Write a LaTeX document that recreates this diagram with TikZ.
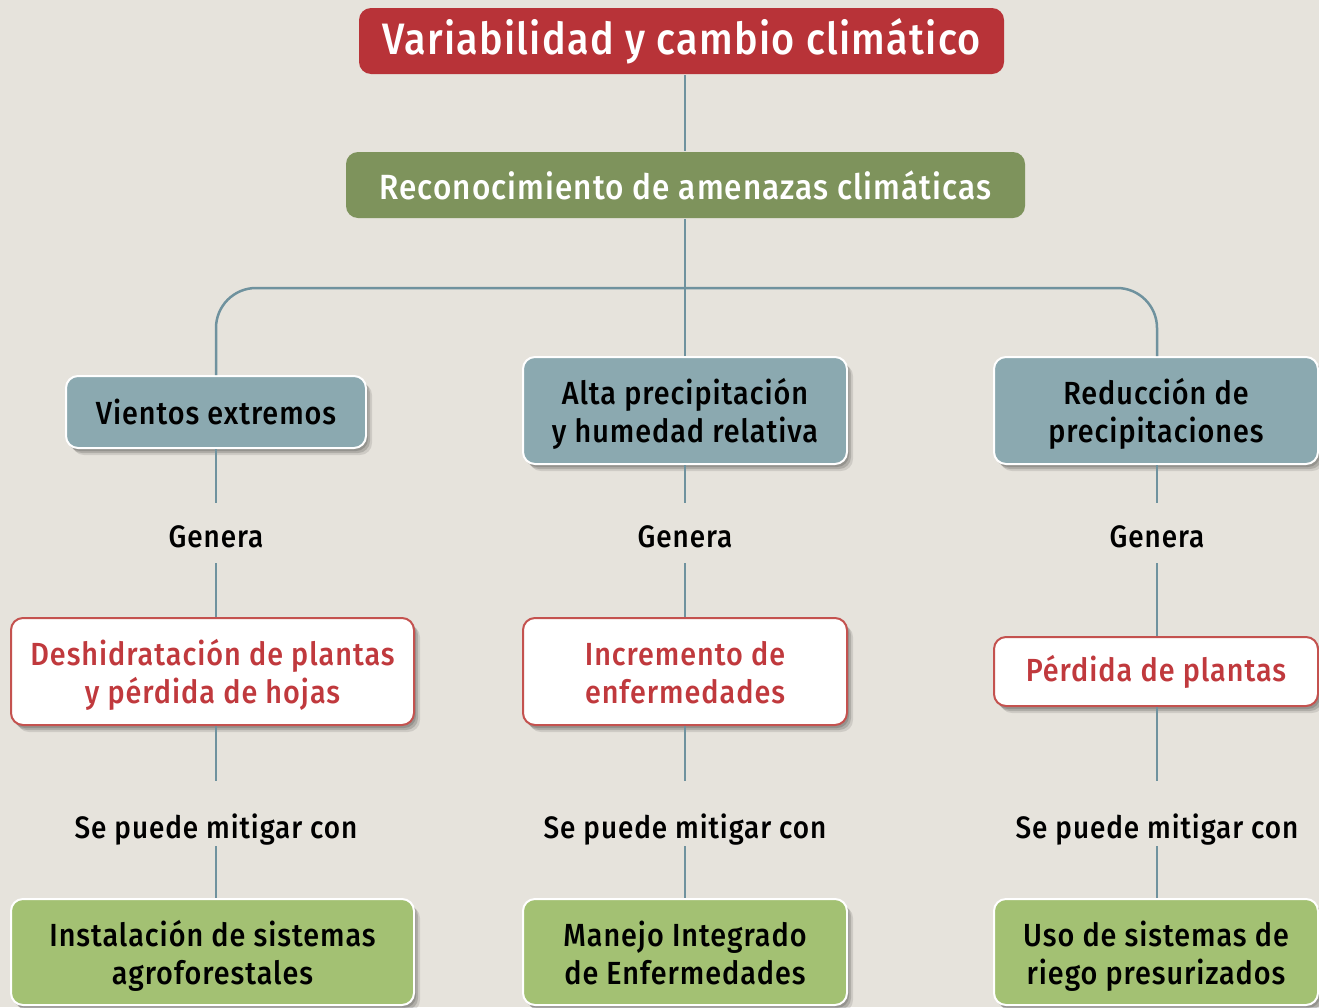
\documentclass[tikz,border=0pt]{standalone}
\usepackage{fontspec}
\setmainfont{Fira Sans}[UprightFont=* Medium, FakeStretch=0.9, LetterSpace=3]
\usetikzlibrary{shadows}
\definecolor{bgc}{HTML}{E6E3DC}
\definecolor{titred}{HTML}{B83338}
\definecolor{topgreen}{HTML}{7E935C}
\definecolor{graybox}{HTML}{8BA9B0}
\definecolor{linec}{HTML}{6F929E}
\definecolor{botgreen}{HTML}{A3C173}
\definecolor{redtxt}{HTML}{C0393D}
\definecolor{redborder}{HTML}{C4524F}
\newcommand\fstrut{\rule{0pt}{33pt}}
\newcommand\lstrut{\rule[-7pt]{0pt}{7pt}}
\begin{document}
\begin{tikzpicture}[x=1pt,y=-1pt,
  box/.style={rounded corners=12pt, align=center, inner sep=0pt, line width=2pt,
    font=\fontsize{32}{38}\selectfont},
  shad/.style={drop shadow={shadow xshift=2pt, shadow yshift=-3pt, opacity=0.15, fill=black},
               drop shadow={shadow xshift=4pt, shadow yshift=-5pt, opacity=0.15, fill=black},
               drop shadow={shadow xshift=6pt, shadow yshift=-7pt, opacity=0.10, fill=black}},
  titlebox/.style={box, fill=titred, text=white, font=\fontsize{44}{50}\selectfont},
  topbox/.style={box, fill=topgreen, text=white, font=\fontsize{35}{40}\selectfont},
  greybox/.style={box, fill=graybox, draw=white, shad, text=black},
  whitebox/.style={box, fill=white, draw=redborder, shad, text=redtxt},
  greenbox/.style={box, fill=botgreen, draw=white, shad, text=black},
  genlab/.style={inner sep=0pt, anchor=base, text height=44pt, text depth=16pt, font=\fontsize{31}{36}\selectfont},
  mitlab/.style={inner sep=0pt, anchor=base, text height=57pt, text depth=8pt, font=\fontsize{31}{36}\selectfont},
  conn/.style={draw=linec, line width=2.5pt}
]
\fill[bgc] (0,0) rectangle (1319,1007);
\useasboundingbox (0,0) rectangle (1319,1007);

% top
\node[titlebox, minimum width=645pt, minimum height=66pt] (title) at (681.5,41) {Variabilidad y cambio climático};
\node[topbox, minimum width=679pt, minimum height=66pt] (tg) at (685.5,185) {Reconocimiento de amenazas climáticas};

% row of gray boxes
\node[greybox, minimum width=300pt, minimum height=72pt] (gL) at (216,412) {Vientos extremos};
\node[greybox, minimum width=324pt, minimum height=107pt] (gM) at (685,410.5) {\fstrut Alta precipitación\\y humedad relativa\lstrut};
\node[greybox, minimum width=324pt, minimum height=107pt] (gR) at (1156,410.5) {\fstrut Reducción de\\precipitaciones\lstrut};

% Genera labels
\node[genlab] (lgL) at (216,547) {Genera};
\node[genlab] (lgM) at (685,547) {Genera};
\node[genlab] (lgR) at (1157,547) {Genera};

% white boxes
\node[whitebox, minimum width=403pt, minimum height=107pt] (wL) at (212.5,671.5) {\fstrut Deshidratación de plantas\\y pérdida de hojas\lstrut};
\node[whitebox, minimum width=324pt, minimum height=107pt] (wM) at (685,671.5) {\fstrut Incremento de\\enfermedades\lstrut};
\node[whitebox, minimum width=324pt, minimum height=69pt] (wR) at (1156,671.5) {Pérdida de plantas};

% mitigar labels
\node[mitlab] (lmL) at (216,838) {Se puede mitigar con};
\node[mitlab] (lmM) at (685,838) {Se puede mitigar con};
\node[mitlab] (lmR) at (1157,838) {Se puede mitigar con};

% green boxes
\node[greenbox, minimum width=403pt, minimum height=106pt] (bL) at (212.5,952) {\fstrut Instalación de sistemas\\agroforestales\lstrut};
\node[greenbox, minimum width=324pt, minimum height=106pt] (bM) at (685,952) {\fstrut Manejo Integrado\\de Enfermedades\lstrut};
\node[greenbox, minimum width=324pt, minimum height=106pt] (bR) at (1156,952) {\fstrut Uso de sistemas de\\riego presurizados\lstrut};

% connectors
\coordinate (br) at (685,288);
\draw[conn] (title.south -| lgM.north) -- (tg.north -| lgM.north);
\draw[conn] (tg.south -| lgM.north) -- (gM.north -| lgM.north);
\draw[conn, rounded corners=40pt] (gL.north -| lgL.north) |- (br) -| (gR.north -| lgR.north);

\foreach \c in {L,M,R}{
  \draw[conn] (g\c.south -| lg\c.north) -- (lg\c.north);
  \draw[conn] (lg\c.south) -- (w\c.north -| lg\c.south);
  \draw[conn] (w\c.south -| lm\c.north) -- (lm\c.north);
  \draw[conn] (lm\c.south) -- (b\c.north -| lm\c.south);
}
\end{tikzpicture}
\end{document}
